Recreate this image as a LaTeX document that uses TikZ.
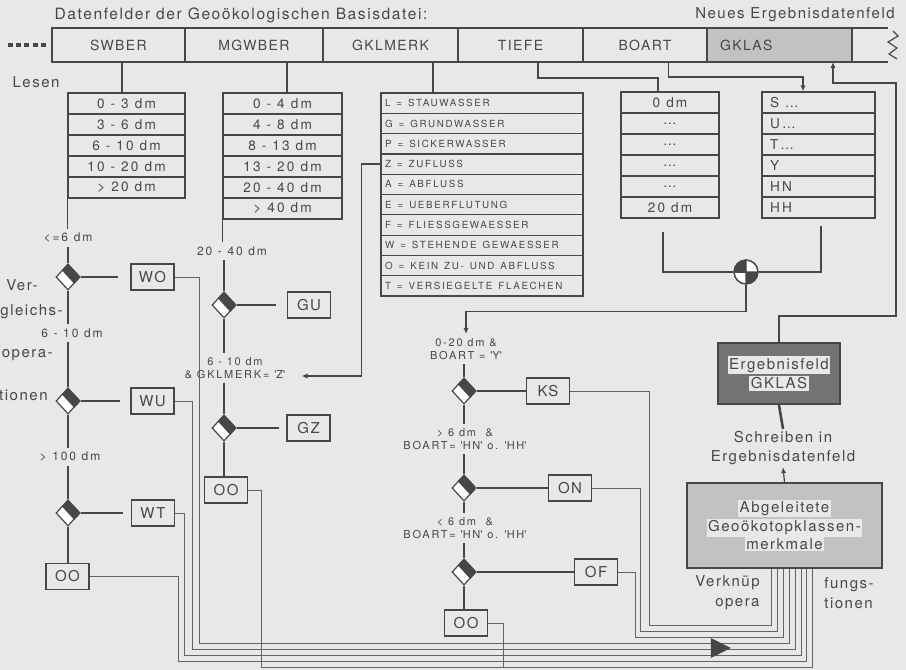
\documentclass[tikz,border=0pt]{standalone}
\usepackage{fontspec}
\newfontfamily\hv{TeX Gyre Heros}[LetterSpace=10]
\newfontfamily\hvm{TeX Gyre Heros}[LetterSpace=16]
\newfontfamily\hvs{TeX Gyre Heros}[LetterSpace=17]
\usetikzlibrary{positioning,shapes.geometric,arrows.meta,calc}
\definecolor{paper}{gray}{0.91}
\definecolor{ink}{gray}{0.28}
\definecolor{shade}{gray}{0.76}
\setlength{\fboxsep}{0.8pt}
\newcommand\tick{\textquotesingle}
% black half of a comparison diamond
\newcommand\cmphalf[1]{\fill[ink] (#1.north) -- (#1.east) -- ($(#1.east)!0.5!(#1.south)$) -- ($(#1.west)!0.5!(#1.north)$) -- cycle;}

\begin{document}
\begin{tikzpicture}[
  x=0.5pt,y=-0.5pt, color=ink,
  field/.style={draw, line width=0.8pt, outer sep=0pt, inner sep=0pt, minimum height=17pt, font=\hv\fontsize{7}{8}\selectfont},
  cell/.style={draw, line width=0.6pt, inner sep=0pt, minimum height=10.5pt, font=\hvm\fontsize{6.8}{7}\selectfont, execute at begin node={\spaceskip=3pt\relax}},
  gkcell/.style={draw, line width=0.6pt, inner xsep=2pt, inner ysep=0pt, text width=97pt, align=left, minimum height=10.15pt, font=\hvs\fontsize{4.9}{6}\selectfont, execute at begin node={\spaceskip=3pt\relax}},
  bocell/.style={cell, inner xsep=4pt, text width=48.5pt, align=left},
  res/.style={draw, line width=0.7pt, minimum width=21.5pt, minimum height=13pt, inner sep=0pt, font=\hv\fontsize{7.5}{9}\selectfont},
  cond/.style={inner sep=2pt, align=center, font=\hvm\fontsize{6}{7}\selectfont, execute at begin node={\spaceskip=2.8pt\relax}},
  bcond/.style={inner sep=2pt, align=center, font=\hvm\fontsize{5.5}{6.5}\selectfont, execute at begin node={\spaceskip=2.4pt\relax}},
  txt/.style={inner sep=1pt, font=\hv\fontsize{7.5}{9.5}\selectfont},
  cmp/.style={diamond, draw, fill=white, line width=0.6pt, minimum width=12pt, minimum height=13pt, inner sep=0pt},
  feed/.style={line width=1pt},
  link/.style={line width=0.6pt},
  bus/.style={line width=0.45pt, draw=ink!85},
  arrowed/.style={-{Latex[length=3pt,width=2.6pt]}}
]
\fill[paper] (0,0) rectangle (906,670);
\useasboundingbox (0,0) rectangle (906,670);

% data fields
\node[txt, font=\hv\fontsize{7.8}{9.5}\selectfont] (title) at (241,15) {Datenfelder der Geoökologischen Basisdatei:};
\node[txt] (neu) at (795,15) {Neues Ergebnisdatenfeld};
\node[field, anchor=west, minimum width=66.5pt] (swber) at (52,45) {SWBER};
\node[field, minimum width=69pt, right=0pt of swber] (mgwber) {MGWBER};
\node[field, minimum width=67.5pt, right=0pt of mgwber] (gklmerk) {GKLMERK};
\node[field, minimum width=62.5pt, right=0pt of gklmerk] (tiefe) {TIEFE};
\node[field, minimum width=62pt, right=0pt of tiefe] (boart) {BOART};
\node[field, fill=shade, text width=59.5pt, inner xsep=6.5pt, align=left, right=0pt of boart] (gklas) {GKLAS};
\draw[line width=0.8pt] (gklas.north east) -- (888,28) (gklas.south east) -- (888,62);
\draw[line width=0.6pt] (893,31) -- (898,36) -- (888,42) -- (897,48) -- (889,54) -- (897,59);
\draw[line width=2pt, dash pattern=on 2.5pt off 1.6pt] (8,45) -- ([xshift=-2.5pt]swber.west);

\node[txt] (lesen) at (36,82) {Lesen};

% tables
\foreach \lab [count=\i] in {0 - 3 dm,3 - 6 dm,6 - 10 dm,10 - 20 dm,> 20 dm}
  \node[cell, minimum width=58.5pt] (sw\i) at (126.5,{82.5+21*\i}) {\lab};
\foreach \lab [count=\i] in {0 - 4 dm,4 - 8 dm,8 - 13 dm,13 - 20 dm,20 - 40 dm,> 40 dm}
  \node[cell, minimum width=59.5pt] (mg\i) at (282.5,{82.5+21*\i}) {\lab};
\foreach \lab [count=\i] in {L = STAUWASSER,G = GRUNDWASSER,P = SICKERWASSER,Z = ZUFLUSS,A = ABFLUSS,E = UEBERFLUTUNG,F = FLIESSGEWAESSER,W = STEHENDE GEWAESSER,O = KEIN ZU- UND ABFLUSS,T = VERSIEGELTE FLAECHEN}
  \node[gkcell] (gk\i) at (482,{82.85+20.3*\i}) {\lab};
\foreach \lab [count=\i] in {0 dm,{\ldots},{\ldots},{\ldots},{\ldots},20 dm}
  \node[cell, minimum width=49pt] (tf\i) at (670,{81.5+21*\i}) {\lab};
\foreach \lab [count=\i] in {{S \ldots},{U\ldots},{T\ldots},Y,HN,HH}
  \node[bocell] (bo\i) at (818.5,{81.5+21*\i}) {\lab};

\draw[feed] ([xshift=-2.25pt]sw1.north) -- ([xshift=-2.25pt]sw1.north |- swber.south);
\draw[feed] ([xshift=2.25pt]mg1.north) -- ([xshift=2.25pt]mg1.north |- mgwber.south);
\draw[feed] ([xshift=-24.5pt]gk1.north) -- ([xshift=-24.5pt]gk1.north |- gklmerk.south);
\draw[link] ([xshift=8.75pt]tiefe.south) -- ++(0,16) -| ([xshift=-6pt]tf1.north);
\draw[link, arrowed] ([xshift=11.75pt]boart.south) -- ++(0,15) -| ([xshift=-7.75pt]bo1.north);

% SWBER comparisons
\node[txt, anchor=east] (ver1) at (40,285) {Ver-};
\node[txt, anchor=east] (ver2) at (65,312) {gleichs-};
\node[txt, anchor=east] (ver3) at (55,355) {opera-};
\node[txt, anchor=east] (ver4) at (50,395) {tionen};
\node[cond] (lt1) at (68,238) {<=6 dm};
\node[cmp] (d1) at (68,277) {};
\node[res] (rwo) at (152.5,277) {WO};
\node[cond] (lt2) at (72,333) {6 - 10 dm};
\node[cmp] (d2) at (68,401) {};
\node[res] (rwu) at (152.5,401) {WU};
\node[cond] (lt3) at (70,457) {> 100 dm};
\node[cmp] (d3) at (68,513) {};
\node[res] (rwt) at (153,513) {WT};
\node[res] (roo1) at (67.5,576.5) {OO};

\draw[link] (sw5.south west) -- (lt1.north -| sw5.south west);
\draw[link] (lt1.south -| d1.north) -- (d1.north);
\draw[link] (d1.south) -- (d1.south |- lt2.north);
\draw[link] (d2.north |- lt2.south) -- (d2.north);
\draw[link] (d2.south) -- (d2.south |- lt3.north);
\draw[link] (d3.north |- lt3.south) -- (d3.north);
\draw[link] (d3.south) -- (d3.south |- roo1.north);
\draw[link, shorten >=6pt] (d1.east) -- (rwo.west);
\draw[link, shorten >=5pt] (d2.east) -- (rwu.west);
\draw[link, shorten >=4pt] (d3.east) -- (rwt.west);

% MGWBER comparisons
\node[cond] (lm1) at (232,251) {20 - 40 dm};
\node[cmp] (d4) at (224,305) {};
\node[res] (rgu) at (309,305) {GU};
\node[bcond] (lm2) at (235,368) {6 - 10 dm\\\& GKLMERK= \tick Z\tick};
\node[cmp] (d5) at (224,428) {};
\node[res] (rgz) at (308.5,428) {GZ};
\node[res] (roo2) at (226,490) {OO};

\draw[link] (mg6.south west) -- (lm1.north -| mg6.south west);
\draw[link] (lm1.south -| d4.north) -- (d4.north);
\draw[link] (d4.south) -- (d4.south |- lm2.north);
\draw[link] (d5.north |- lm2.south) -- (d5.north);
\draw[link] (d5.south) -- (d5.south |- roo2.north);
\draw[link, shorten >=5.5pt] (d4.east) -- (rgu.west);
\draw[link, shorten >=3.5pt] (d5.east) -- (rgz.west);
\draw[link, arrowed] (gk4.west) -- ++(-19,0) |- ([xshift=6pt,yshift=-4pt]lm2.east);

% TIEFE and BOART combined
\node[circle, draw, fill=white, line width=0.6pt, minimum size=12pt, inner sep=0pt] (mix) at (746,272) {};
\begin{scope}
  \clip (mix.center) rectangle (mix.north -| mix.west);
  \fill[ink] (mix.center) circle[radius=6pt];
\end{scope}
\begin{scope}
  \clip (mix.center) rectangle (mix.south -| mix.east);
  \fill[ink] (mix.center) circle[radius=6pt];
\end{scope}
\draw[line width=0.6pt] (mix.center) circle[radius=6pt] (mix.north) -- (mix.south) (mix.west) -- (mix.east);
\draw[link] ([xshift=-3.5pt,yshift=-6.5pt]tf6.south) |- (mix.west);
\draw[link] ([xshift=1.25pt,yshift=-3.5pt]bo6.south) |- (mix.east);

\node[bcond] (rc1) at (466,349) {0-20 dm \&\\BOART = \tick Y\tick};
\node[cmp] (d6) at (464,391) {};
\node[res] (rks) at (548,391) {KS};
\node[bcond] (rc2) at (465,439) {> 6 dm\ \ \&\\BOART= \tick HN\tick{} o. \tick HH\tick};
\node[cmp] (d7) at (464,488) {};
\node[res] (ron) at (570,488) {ON};
\node[bcond] (rc3) at (465,528) {< 6 dm\ \ \&\\BOART= \tick HN\tick{} o. \tick HH\tick};
\node[cmp] (d8) at (464,572) {};
\node[res] (rof) at (596,572) {OF};
\node[res] (roo3) at (466,623) {OO};

\draw[link, arrowed] (mix.south) -- ++(0,27) -| (rc1.north);
\draw[link] (d6.north |- rc1.south) -- (d6.north);
\draw[link] (d6.south) -- (d6.south |- rc2.north);
\draw[link] (d7.north |- rc2.south) -- (d7.north);
\draw[link] (d7.south) -- (d7.south |- rc3.north);
\draw[link] (d8.north |- rc3.south) -- (d8.north);
\draw[link] (d8.south) -- (d8.south |- roo3.north);
\draw[link] (d6.east) -- (rks.west);
\draw[link] (d7.east) -- (ron.west);
\draw[link] (d8.east) -- (rof.west);

\foreach \d in {d1,d2,d3,d4,d5,d6,d7,d8} {\cmphalf{\d}}

% result field and derived features
\node[draw, line width=1pt, fill=black!55, minimum width=61pt, minimum height=30.5pt, inner sep=0pt, align=center, font=\hv\fontsize{7.5}{8.5}\selectfont] (rerg) at (779,373.5)
  {\colorbox{paper}{Ergebnisfeld}\\\colorbox{paper}{GKLAS}};
\node[txt, align=center] (sch) at (783,448) {Schreiben in\\Ergebnisdatenfeld};
\node[draw, line width=1pt, fill=shade, minimum width=97.5pt, minimum height=42.5pt, inner sep=0pt, align=center, font=\hv\fontsize{7.5}{8.75}\selectfont] (abg) at (784.5,525.5)
  {\colorbox{paper}{Abgeleitete}\\\colorbox{paper}{Geoökotopklassen-}\\\colorbox{paper}{merkmale}};
\node[txt, anchor=east, align=right, font=\hv\fontsize{7.5}{10}\selectfont] (vk1) at (762,593) {Verknüp\\opera};
\node[txt, anchor=west, align=left, font=\hv\fontsize{7.5}{10}\selectfont] (vk2) at (822,593) {fungs-\\tionen};

\draw[line width=1.3pt] (rerg.south) -- (sch.north);
\draw[link, arrowed] (abg.north) -- (sch.south);
\draw[link, arrowed] (rerg.north) -- ++(0,-26) -| (896,83) -| ([xshift=26.75pt]gklas.south);

% collecting lines
\draw[bus] (rks.east) -| (649,625) -| ([xshift=-6.75pt]abg.south);
\draw[bus] (ron.east) -| (640,631) -| ([xshift=-3.75pt]abg.south);
\draw[bus] (rof.east) -| (635,637) -| ([xshift=-0.75pt]abg.south);
\draw[bus] (rwo.east) -| (199,643) -| ([xshift=2.25pt]abg.south);
\draw[bus] (rwu.east) -| (192,649) -| ([xshift=5.25pt]abg.south);
\draw[bus] (rwt.east) -| (184,655) -| ([xshift=8.25pt]abg.south);
\draw[bus] (roo1.east) -| (178,661) -| ([xshift=10.75pt]abg.south);
\draw[bus] (roo2.east) -| (261,667) -| ([xshift=13.75pt]abg.south);
\draw[bus] (roo3.east) -| (503,667);
\node[isosceles triangle, fill=ink, inner sep=0pt, minimum height=10pt, minimum width=10pt, isosceles triangle stretches] (flow) at (717,648) {};
\end{tikzpicture}
\end{document}
